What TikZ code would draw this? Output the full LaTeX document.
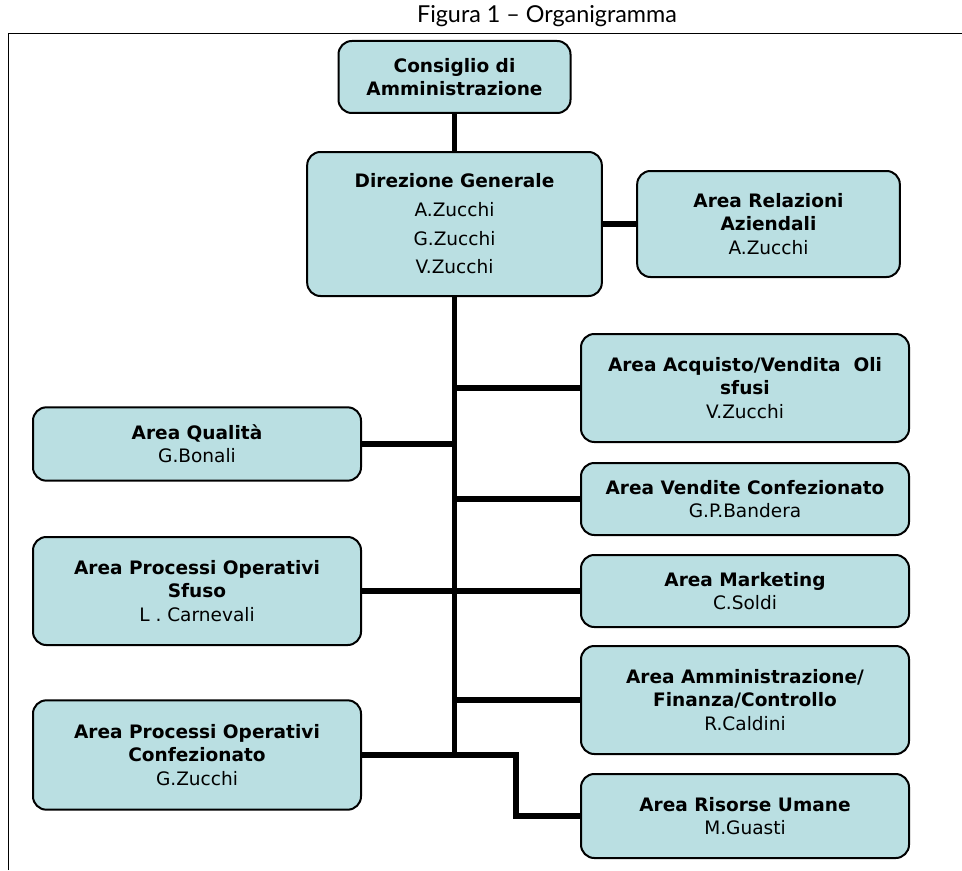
\documentclass[tikz,border=0pt]{standalone}
\usepackage{fontspec}
\setmainfont{DejaVu Sans}
\newfontfamily\titlefont{Lato}
\usepackage{tikz}

\definecolor{boxfill}{RGB}{186,223,226}

\begin{document}
\begin{tikzpicture}[x=0.75pt,y=-0.75pt]

\tikzstyle{every node}=[font=\fontsize{13.9}{17.5}\selectfont]
\tikzstyle{unit}=[draw,line width=1.5pt,rounded corners=10pt,fill=boxfill,align=center,inner sep=0pt]
\tikzstyle{link}=[line width=4.2pt]

\useasboundingbox (0,0) rectangle (962,870);

% frame and caption
\draw[line width=1pt] (8.5,870) -- (8.5,33.5) -- (962,33.5);
\node[font=\titlefont\fontsize{17.5}{19}\selectfont] (caption) at (547,16) {Figura 1 – Organigramma};

\pgfmathsetmacro\xl{197}
\pgfmathsetmacro\xm{454.5}
\pgfmathsetmacro\xr{745}

% top of the chart
\node[unit,minimum width=174pt,minimum height=54pt] (consiglio) at (\xm,77) {\textbf{Consiglio di}\\\textbf{Amministrazione}};
\node[unit,minimum width=221pt,minimum height=108pt,font=\fontsize{13.9}{21.5}\selectfont] (direzione) at (\xm,224) {\textbf{Direzione Generale}\\A.Zucchi\\G.Zucchi\\V.Zucchi};
\node[unit,minimum width=197pt,minimum height=79.5pt] (relazioni) at (768.5,224) {\textbf{Area Relazioni}\\\textbf{Aziendali}\\A.Zucchi};

% right column
\node[unit,minimum width=246pt,minimum height=81pt] (acquisto) at (\xr,388) {\textbf{Area Acquisto/Vendita\ \ Oli}\\\textbf{sfusi}\\V.Zucchi};
\node[unit,minimum width=246pt,minimum height=54pt] (vendite) at (\xr,499) {\textbf{Area Vendite Confezionato}\\G.P.Bandera};
\node[unit,minimum width=246pt,minimum height=54pt] (marketing) at (\xr,591) {\textbf{Area Marketing}\\C.Soldi};
\node[unit,minimum width=246pt,minimum height=81pt] (amministrazione) at (\xr,700) {\textbf{Area Amministrazione/}\\\textbf{Finanza/Controllo}\\R.Caldini};
\node[unit,minimum width=246pt,minimum height=63pt] (risorse) at (\xr,816) {\textbf{Area Risorse Umane}\\M.Guasti};

% left column
\node[unit,minimum width=246pt,minimum height=55pt] (qualita) at (\xl,444) {\textbf{Area Qualità}\\G.Bonali};
\node[unit,minimum width=246pt,minimum height=81pt] (sfuso) at (\xl,591) {\textbf{Area Processi Operativi}\\\textbf{Sfuso}\\L . Carnevali};
\node[unit,minimum width=246pt,minimum height=82pt] (confezionato) at (\xl,755) {\textbf{Area Processi Operativi}\\\textbf{Confezionato}\\G.Zucchi};

\coordinate (bend) at (516,755);

% connectors
\draw[link] (consiglio) -- (direzione);
\draw[link] (direzione) -- (relazioni);
\draw[link] (direzione.south) -- (direzione.south |- confezionato.east);
\draw[link] (acquisto.west) -- (acquisto.west -| direzione.south);
\draw[link] (vendite.west) -- (vendite.west -| direzione.south);
\draw[link] (marketing.west) -- (marketing.west -| direzione.south);
\draw[link] (amministrazione.west) -- (amministrazione.west -| direzione.south);
\draw[link] (qualita.east) -- (qualita.east -| direzione.south);
\draw[link] (sfuso.east) -- (sfuso.east -| direzione.south);
\draw[link] (confezionato.east) -- (bend) |- (risorse.west);

\end{tikzpicture}
\end{document}
